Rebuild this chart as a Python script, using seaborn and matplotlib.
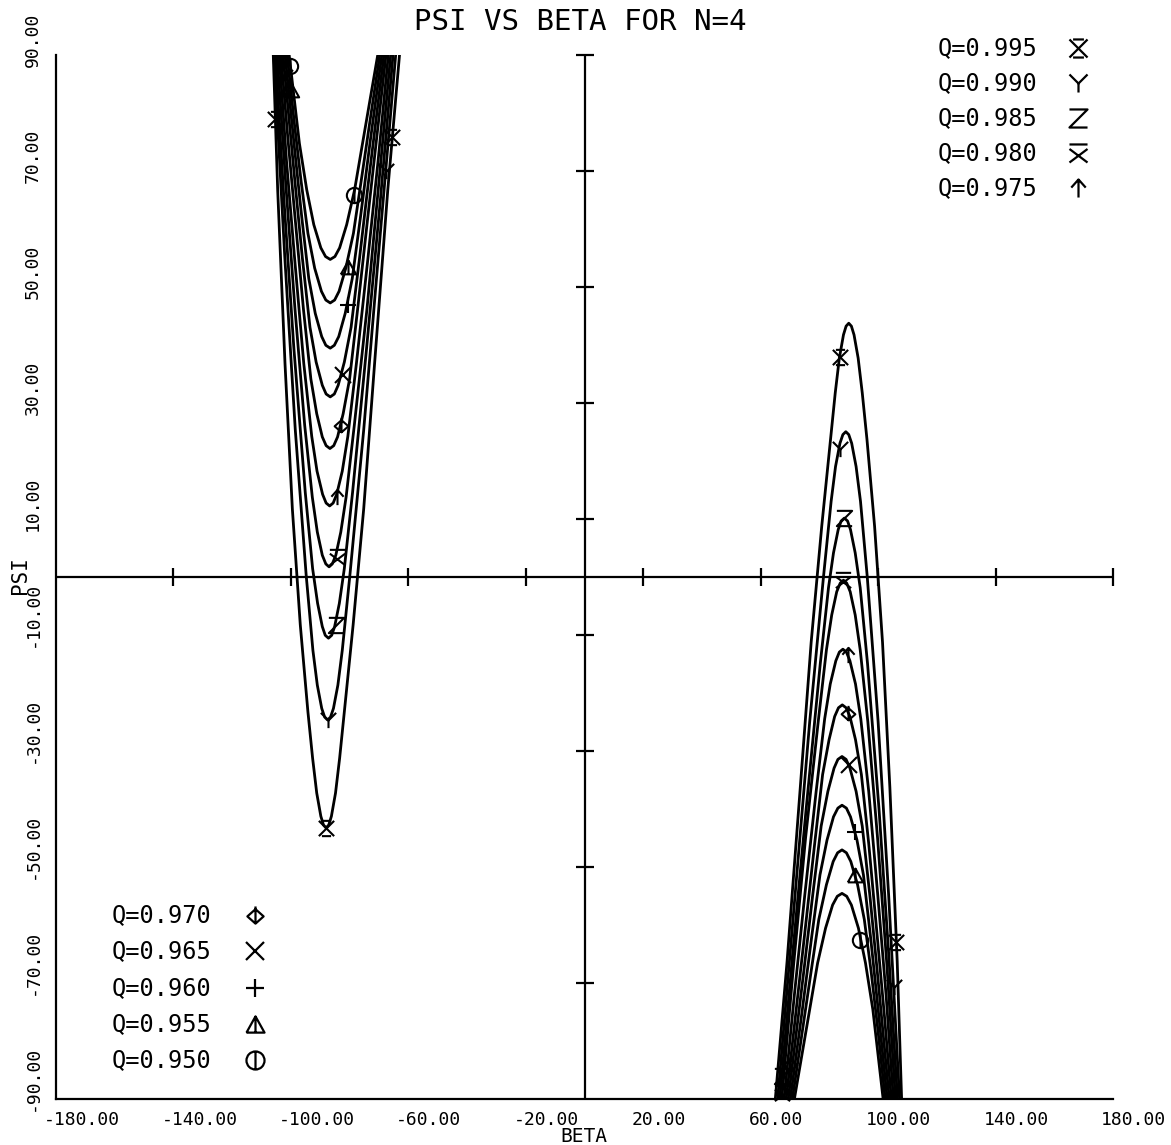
import matplotlib
matplotlib.use("Agg")
import matplotlib.pyplot as plt
from matplotlib.path import Path
from matplotlib.transforms import ScaledTranslation
import seaborn as sns

# Q values, one curve in each family
q_values = [0.995, 0.990, 0.985, 0.980, 0.975, 0.970, 0.965, 0.960, 0.955, 0.950]
q_labels = ["Q=0.995", "Q=0.990", "Q=0.985", "Q=0.980", "Q=0.975",
            "Q=0.970", "Q=0.965", "Q=0.960", "Q=0.955", "Q=0.950"]

# left family (U shaped, minimum near beta=-87): psi levels and beta of both branches
u_psi = [
    [-43.3, -42.8, -41.3, -37.3, -31.3, -23.3, -8.3, 11.7, 36.7, 66.7, 90],
    [-24.7, -24.2, -22.7, -18.7, -12.7, 0.3, 25.3, 55.3, 90],
    [-10.6, -10.1, -8.6, -4.6, 1.4, 14.5, 39.5, 64.5, 90],
    [1.7, 2.2, 3.7, 7.7, 13.7, 26.1, 46.1, 68.1, 90],
    [12.2, 12.7, 14.2, 18.2, 24.2, 36.7, 54.7, 71.7, 90],
    [22.1, 22.6, 24.1, 28.1, 34.1, 46.0, 62.0, 76.0, 90],
    [31.0, 31.5, 33.0, 37.0, 43.0, 55.0, 68.0, 90],
    [39.4, 39.9, 41.4, 45.4, 51.4, 62.0, 75.0, 90],
    [47.2, 47.7, 49.2, 53.2, 59.2, 68.1, 78.1, 90],
    [54.7, 55.2, 56.7, 60.7, 66.7, 74.7, 90],
]
u_beta_lo = [
    [-88.0, -88.9, -89.8, -91.2, -92.6, -94.2, -96.8, -99.5, -102.0, -104.5, -106.0],
    [-87.5, -88.5, -89.5, -91.0, -92.5, -94.8, -98.5, -102.1, -105.8],
    [-87.2, -88.3, -89.3, -90.9, -92.6, -95.1, -99.0, -102.3, -105.3],
    [-87.0, -88.1, -89.3, -91.0, -92.7, -95.3, -98.6, -101.8, -104.7],
    [-86.8, -88.0, -89.2, -91.1, -92.9, -95.6, -98.7, -101.5, -104.0],
    [-86.7, -88.0, -89.3, -91.2, -93.2, -95.7, -98.6, -101.1, -103.4],
    [-86.6, -88.0, -89.3, -91.4, -93.5, -96.1, -98.6, -102.7],
    [-86.6, -88.1, -89.5, -91.7, -93.9, -96.3, -99.0, -102.0],
    [-86.6, -88.1, -89.6, -91.9, -94.2, -96.5, -98.8, -101.3],
    [-86.6, -88.2, -89.8, -92.2, -94.6, -97.1, -100.6],
]
u_beta_hi = [
    [-88.0, -87.1, -86.2, -84.8, -83.4, -81.8, -78.8, -75.2, -71.5, -67.0, -63.0],
    [-87.5, -86.5, -85.5, -84.0, -82.5, -79.9, -75.2, -70.2, -64.3],
    [-87.2, -86.1, -85.1, -83.5, -81.8, -79.0, -74.2, -69.6, -65.2],
    [-87.0, -85.9, -84.7, -83.0, -81.2, -78.4, -74.1, -70.0, -66.0],
    [-86.8, -85.6, -84.4, -82.5, -80.6, -77.7, -73.8, -70.3, -66.8],
    [-86.7, -85.4, -84.1, -82.2, -80.0, -77.3, -73.8, -70.7, -67.6],
    [-86.6, -85.2, -83.9, -81.8, -79.5, -76.6, -73.6, -68.3],
    [-86.6, -85.2, -83.7, -81.5, -79.1, -76.3, -73.0, -69.0],
    [-86.6, -85.1, -83.6, -81.3, -78.7, -76.1, -73.2, -69.7],
    [-86.6, -85.0, -83.4, -81.0, -78.3, -75.6, -70.4],
]

# right family (cap shaped, peak near beta=88)
n_psi = [
    [43.7, 43.2, 41.7, 37.7, 31.7, 23.7, 8.7, -11.3, -36.3, -66.3, -90],
    [25.0, 24.5, 23.0, 19.0, 13.0, 0.0, -25.0, -55.0, -90],
    [10.1, 9.6, 8.1, 4.1, -1.9, -15.0, -40.0, -65.0, -90],
    [-0.6, -1.1, -2.6, -6.6, -12.6, -25.0, -45.0, -67.0, -90],
    [-12.5, -13.0, -14.5, -18.5, -24.5, -37.0, -55.0, -72.0, -90],
    [-22.1, -22.6, -24.1, -28.1, -34.1, -46.0, -62.0, -76.0, -90],
    [-31.0, -31.5, -33.0, -37.0, -43.0, -55.0, -68.0, -90],
    [-39.4, -39.9, -41.4, -45.4, -51.4, -62.0, -75.0, -90],
    [-47.1, -47.6, -49.1, -53.1, -59.1, -68.0, -78.0, -90],
    [-54.6, -55.1, -56.6, -60.6, -66.6, -74.6, -90],
]
n_beta_lo = [
    [90.0, 89.1, 88.2, 86.8, 85.4, 83.8, 80.8, 77.2, 73.5, 69.0, 65.0],
    [89.0, 88.0, 87.0, 85.5, 84.0, 81.4, 76.7, 71.7, 65.8],
    [88.5, 87.4, 86.4, 84.8, 83.1, 80.3, 75.5, 70.9, 66.5],
    [88.2, 87.1, 85.9, 84.2, 82.4, 79.6, 75.3, 71.2, 67.2],
    [88.0, 86.8, 85.6, 83.7, 81.8, 78.9, 75.0, 71.5, 68.0],
    [87.8, 86.5, 85.2, 83.3, 81.1, 78.4, 74.9, 71.8, 68.7],
    [87.7, 86.3, 85.0, 82.9, 80.6, 77.7, 74.7, 69.4],
    [87.7, 86.3, 84.8, 82.6, 80.2, 77.4, 74.1, 70.1],
    [87.7, 86.2, 84.7, 82.4, 79.8, 77.2, 74.3, 70.8],
    [87.7, 86.1, 84.5, 82.1, 79.4, 76.7, 71.5],
]
n_beta_hi = [
    [90.0, 90.9, 91.8, 93.2, 94.6, 96.2, 98.8, 101.5, 104.0, 106.5, 108.0],
    [89.0, 90.0, 91.0, 92.5, 94.0, 96.3, 100.0, 103.6, 107.3],
    [88.5, 89.6, 90.6, 92.2, 93.9, 96.4, 100.3, 103.6, 106.6],
    [88.2, 89.3, 90.5, 92.2, 93.9, 96.5, 99.8, 103.0, 105.9],
    [88.0, 89.2, 90.4, 92.3, 94.1, 96.8, 99.9, 102.7, 105.2],
    [87.8, 89.1, 90.4, 92.3, 94.3, 96.8, 99.7, 102.2, 104.5],
    [87.7, 89.1, 90.4, 92.5, 94.6, 97.2, 99.7, 103.8],
    [87.7, 89.2, 90.6, 92.8, 95.0, 97.4, 100.1, 103.1],
    [87.7, 89.2, 90.7, 93.0, 95.3, 97.6, 99.9, 102.4],
    [87.7, 89.3, 90.9, 93.3, 95.7, 98.2, 101.7],
]

# symbol positions on the curves
u_mark_beta = [-88.0, -87.5, -84.8, -84.4, -84.2, -82.8, -82.4, -80.4, -80.6, -78.4]
u_mark_psi = [-43.3, -24.7, -8.3, 3.4, 13.8, 26.2, 34.8, 46.8, 53.4, 65.8]
n_mark_beta = [87.1, 86.9, 88.5, 88.2, 89.6, 89.8, 90.0, 92.0, 92.0, 94.0]
n_mark_psi = [37.9, 22.1, 10.1, -0.6, -13.5, -23.5, -32.5, -44.0, -51.5, -62.6]
extra_q = [0, 4, 6, 8, 9, 0, 1, 0, 1, 2, 3, 5]
extra_beta = [-105.3, -103.8, -102.0, -100.0, -100.2, -65.4, -67.7, 106.2, 105.3, 67.2, 67.4, 70.0]
extra_psi = [79, 88, 86, 84, 88, 75.8, 70, -62.9, -70.8, -86, -89, -84]

x_ticks = [-180, -140, -100, -60, -20, 20, 60, 100, 140, 180]
x_labels = ["-180.00", "-140.00", "-100.00", "-60.00", "-20.00",
            "20.00", "60.00", "100.00", "140.00", "180.00"]
y_ticks = [-90, -70, -50, -30, -10, 10, 30, 50, 70, 90]
y_labels = ["-90.00", "-70.00", "-50.00", "-30.00", "-10.00",
            "10.00", "30.00", "50.00", "70.00", "90.00"]

sns.set_style("white")
plt.rcParams['font.family'] = ['DejaVu Sans Mono', 'DejaVu Sans']
plt.rcParams['text.color'] = 'black'

W, H = 1171, 1145
fig = plt.figure(figsize=(W / 100, H / 100), dpi=100)
ax = fig.add_axes([56 / W, 1 - 1098.7 / H, (1113 - 56) / W, (1098.7 - 54.7) / H])

MV, LN = Path.MOVETO, Path.LINETO


def seg_path(segs):
    verts, codes = [], []
    for s in segs:
        for k, p in enumerate(s):
            verts.append(p)
            codes.append(MV if k == 0 else LN)
    return Path(verts, codes)


marks = [
    seg_path([[(-1, -1), (1, 1)], [(-1, 1), (1, -1)], [(-0.6, 1), (0.6, 1)], [(-0.6, -1), (0.6, -1)]]),
    seg_path([[(-1, 1), (0, 0), (1, 1)], [(0, 0), (0, -1)]]),
    seg_path([[(-1, 1), (1, 1), (-1, -1), (1, -1)]]),
    seg_path([[(-1, 1), (1, 1)], [(-1, 0.5), (1, -1)], [(1, 0.5), (-1, -1)]]),
    seg_path([[(0, -1), (0, 1)], [(-0.8, 0.1), (0, 1), (0.8, 0.1)]]),
    seg_path([[(0, 0.7), (0.9, -0.1), (0, -0.9), (-0.9, -0.1), (0, 0.7)], [(0, 1), (0, -0.9)]]),
    'x',
    '+',
    seg_path([[(-1, -0.9), (1, -0.9), (0, 0.9), (-1, -0.9)], [(0, -0.9), (0, 0.9)]]),
    Path.make_compound_path(Path.unit_circle(), seg_path([[(0, -1), (0, 1)]])),
]

for k in range(len(q_values)):
    b = u_beta_lo[k][::-1] + u_beta_hi[k][1:]
    p = u_psi[k][::-1] + u_psi[k][1:]
    sns.lineplot(x=b, y=p, sort=False, estimator=None, color='black', lw=2.0, ax=ax)
    b = n_beta_lo[k][::-1] + n_beta_hi[k][1:]
    p = n_psi[k][::-1] + n_psi[k][1:]
    sns.lineplot(x=b, y=p, sort=False, estimator=None, color='black', lw=2.0, ax=ax)
    ax.plot([u_mark_beta[k], n_mark_beta[k]], [u_mark_psi[k], n_mark_psi[k]], ls='none',
            marker=marks[k], ms=11, mew=1.5, mec='black', mfc='none', clip_on=False)

for q, b, p in zip(extra_q, extra_beta, extra_psi):
    ax.plot([b], [p], ls='none', marker=marks[q], ms=11, mew=1.5, mec='black', mfc='none', clip_on=False)

# axes frame and cross lines through zero
ax.set_xlim(-180, 180)
ax.set_ylim(-90, 90)
for s in ['top', 'right']:
    ax.spines[s].set_visible(False)
for s in ['left', 'bottom']:
    ax.spines[s].set_color('black')
    ax.spines[s].set_linewidth(1.6)
ax.axhline(0, color='black', lw=1.6)
ax.axvline(0, color='black', lw=1.6)
ax.plot(x_ticks[1:], [0] * (len(x_ticks) - 1), ls='none', marker='|', ms=13, mew=1.6,
        color='black', clip_on=False)
ax.plot([0] * (len(y_ticks) - 1), y_ticks[1:], ls='none', marker='_', ms=13, mew=1.6,
        color='black', clip_on=False)

ax.set_xticks(x_ticks)
ax.set_xticklabels(x_labels)
ax.set_yticks(y_ticks)
ax.set_yticklabels(y_labels)
ax.tick_params(axis='x', direction='inout', length=9, width=1.5, pad=4, labelsize=13, colors='black')
ax.tick_params(axis='y', direction='out', length=6, width=1.5, pad=4, labelsize=13, colors='black',
               labelrotation=90)
dx = ScaledTranslation(-12 / 100, 0, fig.dpi_scale_trans)
for lab in ax.get_xticklabels():
    lab.set_horizontalalignment('left')
    lab.set_transform(lab.get_transform() + dx)
dy = ScaledTranslation(0, -12 / 100, fig.dpi_scale_trans)
for lab in ax.get_yticklabels():
    lab.set_verticalalignment('bottom')
    lab.set_transform(lab.get_transform() + dy)

fig.text(580 / W, 1 - 22 / H, "PSI VS BETA FOR N=4", ha='center', va='center', fontsize=21)
fig.text(584 / W, 1 - 1137 / H, "BETA", ha='center', va='center', fontsize=14)
fig.text(20 / W, 1 - 575 / H, "PSI", ha='center', va='center', rotation=90, fontsize=15)

# symbol key, written as in the original plot
for i in range(5):
    y = 1 - (48 + i * 35) / H
    fig.text(938 / W, y, q_labels[i], ha='left', va='center', fontsize=17)
    ax.plot([1078 / W], [y], transform=fig.transFigure, ls='none', marker=marks[i], ms=13,
            mew=1.6, mec='black', mfc='none', clip_on=False)
for i in range(5, 10):
    y = 1 - (915 + (i - 5) * 36.3) / H
    fig.text(112 / W, y, q_labels[i], ha='left', va='center', fontsize=17)
    ax.plot([255 / W], [y], transform=fig.transFigure, ls='none', marker=marks[i], ms=13,
            mew=1.6, mec='black', mfc='none', clip_on=False)

fig.savefig("out.png", dpi=100, facecolor='white')
